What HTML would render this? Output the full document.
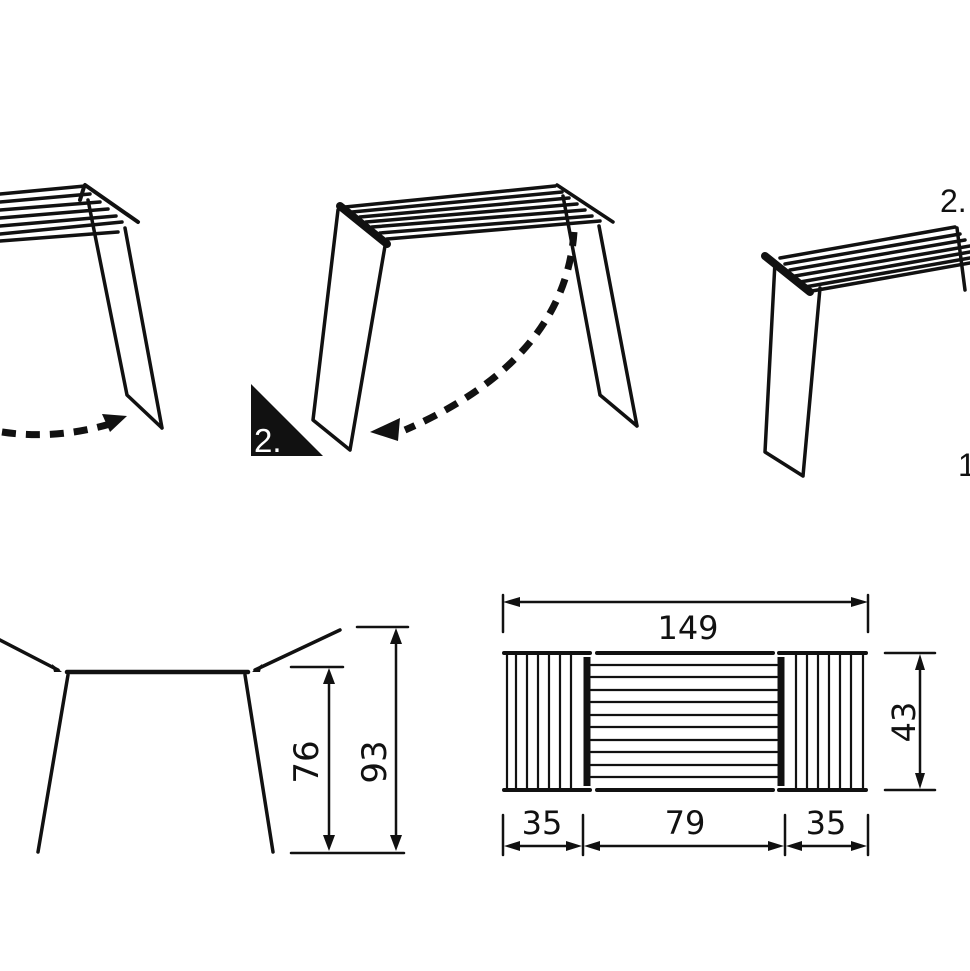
<!DOCTYPE html>
<html><head><meta charset="utf-8"><style>html,body{margin:0;padding:0;background:#fff}svg{display:block}</style></head>
<body>
<svg width="970" height="971" viewBox="0 0 970 971" xmlns="http://www.w3.org/2000/svg" fill="none" stroke="#111" stroke-linecap="round" stroke-linejoin="round">
<!-- Top-left rack -->
<g stroke-width="3.5">
<path d="M0 194 L85 186 M0 202 L90 194 M0 210 L100 202 M0 218 L108 209 M0 226 L116 216 M0 234 L122 222 M0 241 L118 232"/>
<path d="M85 185 L138 222 M84 187 L80 200" stroke-width="4"/>
<path d="M88 200 L127 395 L162 428 M125 228 L162 428" />
</g>
<path d="M2 432 Q55 440 110 424" stroke-width="7" stroke-dasharray="14 10" stroke-linecap="butt"/>
<polygon points="127,416 102,414 110,432" fill="#111" stroke="none"/>
<!-- Top-middle rack -->
<g stroke-width="3.5">
<path d="M345 207 L555 186 M352 212 L562 192 M360 217 L569 198 M366 222 L577 204 M372 227 L585 210 M380 233 L592 216 M387 239 L600 221"/>
<path d="M340 206 L387 244" stroke-width="8"/>
<path d="M557 185 L613 222" stroke-width="3.5"/>
<path d="M338 210 L313 420 L350 450 M385 246 L350 450"/>
<path d="M563 196 L600 395 L637 426 M599 226 L637 426"/>
</g>
<path d="M574 232 Q565 360 405 430" stroke-width="7" stroke-dasharray="14 10" stroke-linecap="butt"/>
<polygon points="370,432 400,418 398,441" fill="#111" stroke="none"/>
<polygon points="251,384 251,456 323,456" fill="#111" stroke="none"/>
<text x="254" y="452" font-family="Liberation Sans, sans-serif" font-size="33" fill="#fff" stroke="none">2.</text>
<!-- Top-right rack -->
<g stroke-width="3.5">
<path d="M780 258 L955 227 M785 264 L960 234 M790 270 L965 240 M795 276 L970 246 M800 282 L970 252 M805 287 L970 258 M812 291 L970 263"/>
<path d="M765 256 L810 292" stroke-width="8"/>
<path d="M775 262 L765 452 L803 476 M820 288 L803 476"/>
<path d="M957 228 L965 290"/>
</g>
<text x="940" y="212" font-family="Liberation Sans, sans-serif" font-size="32" fill="#111" stroke="none">2.</text>
<text x="958" y="476" font-family="Liberation Sans, sans-serif" font-size="32" fill="#111" stroke="none">1</text>
<!-- Bottom-left side view -->
<g stroke-width="3.5">
<path d="M67 672 L248 672" stroke-width="4.5"/>
<path d="M68 675 L38 852 M245 675 L273 852"/>
<path d="M0 640 L58 670 M255 670 L340 630"/>
</g>
<polygon points="62,672 52,664 54,672" fill="#111" stroke="none"/>
<polygon points="252,672 262,664 260,672" fill="#111" stroke="none"/>
<g stroke-width="2.5">
<path d="M291 667 L343 667 M357 627 L408 627 M291 853 L404 853"/>
<path d="M329 675 L329 845 M396 635 L396 845"/>
</g>
<g fill="#111" stroke="none">
<polygon points="329,668 323,684 335,684"/><polygon points="329,851 323,835 335,835"/>
<polygon points="396,628 390,644 402,644"/><polygon points="396,851 390,835 402,835"/>
</g>
<text transform="translate(318 762) rotate(-90)" text-anchor="middle" font-family="DejaVu Sans, sans-serif" font-size="34" fill="#111" stroke="none">76</text>
<text transform="translate(386 762) rotate(-90)" text-anchor="middle" font-family="DejaVu Sans, sans-serif" font-size="34" fill="#111" stroke="none">93</text>
<!-- Bottom-right top view -->
<g stroke-width="2.5">
<path d="M503 595 L503 632 M868 595 L868 632 M509 602 L862 602"/>
<path d="M503 815 L503 855 M583 815 L583 855 M785 815 L785 855 M868 815 L868 855"/>
<path d="M510 846 L577 846 M590 846 L779 846 M792 846 L862 846"/>
<path d="M885 653 L935 653 M885 790 L935 790 M920 660 L920 783"/>
</g>
<g fill="#111" stroke="none">
<polygon points="503,602 520,597 520,607"/><polygon points="868,602 851,597 851,607"/>
<polygon points="504,846 520,841 520,851"/><polygon points="582,846 566,841 566,851"/>
<polygon points="584,846 600,841 600,851"/><polygon points="784,846 768,841 768,851"/>
<polygon points="786,846 802,841 802,851"/><polygon points="867,846 851,841 851,851"/>
<polygon points="920,654 915,670 925,670"/><polygon points="920,789 915,773 925,773"/>
</g>
<g stroke-width="4">
<path d="M504 653 L590 653 M597 653 L773 653 M779 653 L866 653"/>
<path d="M504 790 L590 790 M597 790 L773 790 M779 790 L866 790"/>
</g>
<path d="M587 657 L587 786 M781 657 L781 786" stroke-width="7" stroke-linecap="butt"/>
<g stroke-width="2.2">
<path d="M507 655 V788 M516 655 V788 M527 655 V788 M538 655 V788 M549 655 V788 M560 655 V788 M571 655 V788"/>
<path d="M796 655 V788 M807 655 V788 M818 655 V788 M829 655 V788 M840 655 V788 M851 655 V788 M863 655 V788"/>
<path d="M591 665 H777 M591 677 H777 M591 690 H777 M591 702 H777 M591 715 H777 M591 727 H777 M591 740 H777 M591 752 H777 M591 765 H777 M591 777 H777"/>
</g>
<g font-family="DejaVu Sans, sans-serif" font-size="32" fill="#111" stroke="none" text-anchor="middle">
<text x="688" y="639">149</text>
<text x="542" y="834">35</text>
<text x="685" y="834">79</text>
<text x="826" y="834">35</text>
</g>
<text transform="translate(915 722) rotate(-90)" text-anchor="middle" font-family="DejaVu Sans, sans-serif" font-size="32" fill="#111" stroke="none">43</text>
</svg>
</body></html>
